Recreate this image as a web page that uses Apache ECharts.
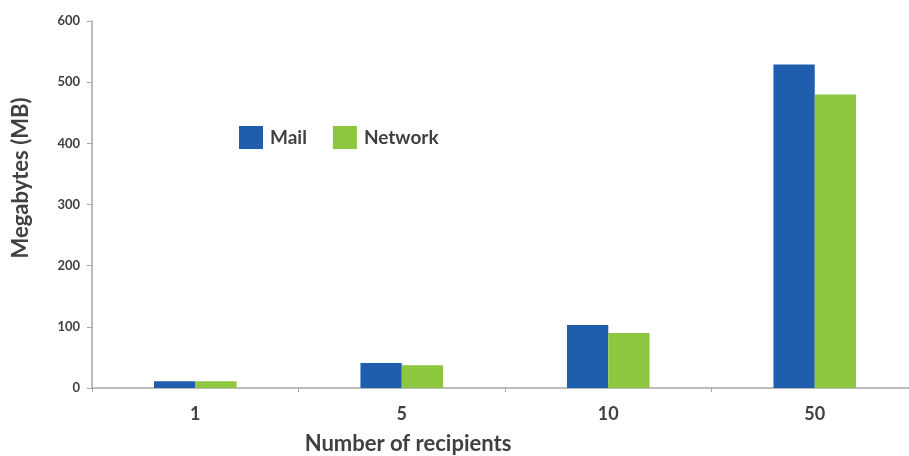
<!DOCTYPE html>
<html>
<head>
<meta charset="utf-8">
<script src="https://cdn.jsdelivr.net/npm/echarts@6/dist/echarts.min.js"></script>
<style>
html,body{margin:0;padding:0;background:#fff;}
#chart{width:909px;height:456px;}
</style>
</head>
<body>
<div id="chart"></div>
<script>
var categories = ['1', '5', '10', '50'];
var mailValues = [11, 41, 103, 529];
var networkValues = [11, 37, 90, 480];
var seriesNames = ['Mail', 'Network'];
var yTitle = 'Megabytes (MB)';
var xTitle = 'Number of recipients';

var FONT = 'Lato';
var TXT = '#404040';
var chart = echarts.init(document.getElementById('chart'), null, {renderer: 'canvas'});
chart.setOption({
  animation: false,
  backgroundColor: '#ffffff',
  grid: {left: 92, width: 826, top: 21, bottom: 68, containLabel: false, outerBoundsMode: 'none'},
  legend: {
    left: 239, top: 126, padding: 0, itemWidth: 24, itemHeight: 23, itemGap: 26,
    icon: 'rect',
    textStyle: {fontFamily: FONT, fontWeight: 'bold', fontSize: 19, color: TXT, padding: [0,0,0,2]},
    data: seriesNames
  },
  xAxis: {
    type: 'category',
    data: categories,
    axisLine: {lineStyle: {color: '#a6a6a6', width: 1.5}},
    axisTick: {show: true, length: 4, lineStyle: {color: '#a6a6a6'}},
    axisLabel: {fontFamily: FONT, fontWeight: 'bold', fontSize: 18, color: TXT, margin: 17},
    splitLine: {show: false}
  },
  yAxis: {
    type: 'value',
    min: 0, max: 600, interval: 100,
    axisLine: {show: true, lineStyle: {color: '#a6a6a6', width: 1.5}},
    axisTick: {show: true, length: 5, lineStyle: {color: '#a6a6a6'}},
    axisLabel: {fontFamily: FONT, fontWeight: 'bold', fontSize: 13, color: TXT, margin: 12},
    splitLine: {show: false}
  },
  graphic: [
    {type: 'text', x: 408, y: 444, style: {text: xTitle, x: 0, y: 0, textAlign: 'center', textVerticalAlign: 'middle', fontFamily: FONT, fontWeight: 'bold', fontSize: 22, fill: TXT}},
    {type: 'text', x: 21, y: 178, rotation: Math.PI / 2, style: {text: yTitle, x: 0, y: 0, textAlign: 'center', textVerticalAlign: 'middle', fontFamily: FONT, fontWeight: 'bold', fontSize: 22, fill: TXT}}
  ],
  series: [
    {name: seriesNames[0], type: 'bar', data: mailValues, barWidth: '20%', barGap: '0%', itemStyle: {color: '#1f5dad'}},
    {name: seriesNames[1], type: 'bar', data: networkValues, barWidth: '20%', barGap: '0%', itemStyle: {color: '#8dc63f'}}
  ]
});
</script>
</body>
</html>
